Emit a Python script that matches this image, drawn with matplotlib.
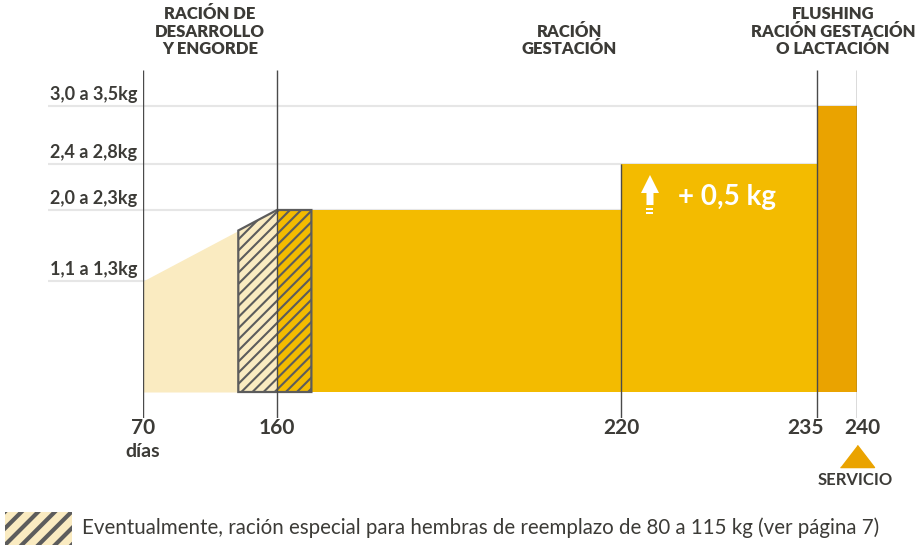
import numpy as np
import matplotlib.pyplot as plt
from matplotlib.patches import Polygon, Rectangle
from matplotlib.transforms import ScaledTranslation

# --- data ---
day_ticks = [70, 160, 220, 235, 240]
day_labels = ['70', '160', '220', '235', '240']
level_values = [1.1, 2.0, 2.4, 3.0]
level_labels = ['1,1 a 1,3kg', '2,0 a 2,3kg', '2,4 a 2,8kg', '3,0 a 3,5kg']

# growing ramp (light) from 70 to 160 days
ramp_days = [70, 160]
ramp_levels = [1.1, 2.0]
# special ration (hatched)
special_days = [134, 166]
# rations: start, end, level
ration_start = [160, 220, 235]
ration_end = [220, 235, 240]
ration_level = [2.0, 2.4, 3.0]
# top of the vertical marker lines
vline_top = [3.5, 3.5, 2.4, 3.5, 3.5]

headers = ['RACIÓN DE\nDESARROLLO\nY ENGORDE', 'RACIÓN\nGESTACIÓN',
           'FLUSHING\nRACIÓN GESTACIÓN\nO LACTACIÓN']
header_x = [115, 211, 237]
tick_shift = [0, 0, 0, -8, 4]  # points

LIGHT = '#faebc1'
GOLD = '#f3bb00'
ORANGE = '#eaa300'
DARK = '#3c3b37'
HATCH = '#5c5c5c'

plt.rcParams['font.family'] = ['Lato', 'DejaVu Sans']
plt.rcParams['hatch.linewidth'] = 1.5

fig = plt.figure(figsize=(9.2, 5.46), dpi=100)
W, H = 920, 546
ax = fig.add_axes([143 / W, (H - 418) / H, 714 / W, 348 / H])

# schematic (piecewise) scales
x_bp = [70, 160, 220, 235, 240]
x_px = [0, 134, 478, 674, 714]
y_bp = [-0.3, 0, 1.1, 2.0, 2.4, 3.0, 3.5]
y_px = [0, 26, 137, 208, 254, 312, 348]


def xf(v):
    return np.interp(v, x_bp, x_px)


def xi(v):
    return np.interp(v, x_px, x_bp)


def yf(v):
    return np.interp(v, y_bp, y_px)


def yi(v):
    return np.interp(v, y_px, y_bp)


ax.set_xscale('function', functions=(xf, xi))
ax.set_yscale('function', functions=(yf, yi))
ax.set_xlim(70, 240)
ax.set_ylim(-0.3, 3.5)
ax.axis('off')

# grid lines
ax.hlines(level_values, -95 / 714, 1, transform=ax.get_yaxis_transform(),
          colors='#e6e6e6', lw=1.5, clip_on=False, zorder=0)
for v, lab in zip(level_values, level_labels):
    ax.annotate(lab, xy=(0, v), xycoords=ax.get_yaxis_transform(),
                xytext=(-4, 2), textcoords='offset points', ha='right',
                va='bottom', fontsize=13, fontweight='bold', color=DARK)

# light ramp
ramp_x = np.linspace(ramp_days[0], ramp_days[1], 2)
ax.fill_between(ramp_x, 0, np.interp(ramp_x, ramp_days, ramp_levels),
                color=LIGHT, lw=0, zorder=1)

# rations
colors = [GOLD, GOLD, ORANGE]
ax.bar(ration_start, ration_level, width=np.array(ration_end) - np.array(ration_start),
       align='edge', color=colors, lw=0, zorder=1)

# hatched special ration
s0, s1 = special_days
top0 = np.interp(s0, ramp_days, ramp_levels)
top_mid = np.interp(ramp_days[1], ramp_days, ramp_levels)
poly = Polygon([(s0, 0), (s0, top0), (ramp_days[1], top_mid), (s1, top_mid), (s1, 0)],
               closed=True, facecolor='none', edgecolor=HATCH, hatch='///',
               lw=1.6, zorder=2)
ax.add_patch(poly)

# vertical lines
for d, t in zip(day_ticks, vline_top):
    ax.vlines(d, -0.3, t, colors='#4a4a4a', lw=1, zorder=3)

# tick labels
for d, lab, sh in zip(day_ticks, day_labels, tick_shift):
    ax.annotate(lab, xy=(d, 0), xycoords=ax.get_xaxis_transform(),
                xytext=(sh, 0), textcoords='offset points', ha='center',
                va='top', fontsize=15, fontweight='bold', color=DARK)
ax.annotate('días', xy=(70, 0), xycoords=ax.get_xaxis_transform(),
            xytext=(0, -18), textcoords='offset points', ha='center',
            va='top', fontsize=14, fontweight='bold', color=DARK)

# headers
for hx, txt in zip(header_x, headers):
    ax.annotate(txt, xy=(hx, 1), xycoords=ax.get_xaxis_transform(),
                xytext=(0, 9), textcoords='offset points', ha='center',
                va='bottom', fontsize=12, fontweight='heavy', color=DARK,
                linespacing=1.15)

# servicio marker
ax.plot([240], [-38 / 348], transform=ax.get_xaxis_transform(), clip_on=False,
        marker=[(-1, -0.65), (1, -0.65), (0, 0.65)], ms=24.5, color=ORANGE, lw=0)
ax.annotate('SERVICIO', xy=(240, 0), xycoords=ax.get_xaxis_transform(),
            xytext=(-1.5, -39), textcoords='offset points', ha='center',
            va='top', fontsize=12, fontweight='bold', color=DARK)

# +0,5 kg note with arrow
ax.annotate('+ 0,5 kg', xy=(220, 2.4), xytext=(41, -24), textcoords='offset points',
            ha='left', va='center', fontsize=20, fontweight='bold', color='white',
            zorder=5)
tr = fig.dpi_scale_trans + ScaledTranslation(220, 2.4, ax.transData)
arrow_px = [(29, -11), (20, -29), (25.5, -29), (25.5, -41), (32.5, -41),
            (32.5, -29), (38, -29)]
ax.add_patch(Polygon(np.array(arrow_px) / 100, closed=True, transform=tr,
                     color='white', lw=0, zorder=5, clip_on=False))
for y0 in (-44, -48):
    ax.add_patch(Rectangle((25.5 / 100, (y0 - 2) / 100), 7 / 100, 2 / 100,
                           transform=tr, color='white', lw=0, zorder=5, clip_on=False))

# legend
plt.rcParams['hatch.linewidth'] = 3.0
fig.add_artist(Rectangle((5 / W, 1 - 545 / H), 67 / W, 33 / H, transform=fig.transFigure,
                         facecolor=LIGHT, edgecolor=HATCH, hatch='//', lw=0))
fig.text(82 / W, 1 - 528 / H,
         'Eventualmente, ración especial para hembras de reemplazo de 80 a 115 kg (ver página 7)',
         va='center', ha='left', fontsize=14.8, color=DARK)

fig.savefig('out.png', dpi=100)
